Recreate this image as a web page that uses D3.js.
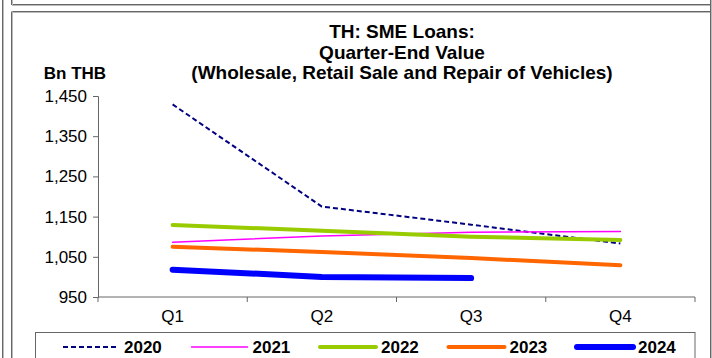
<!DOCTYPE html>
<html>
<head>
<meta charset="utf-8">
<script src="https://cdn.jsdelivr.net/npm/d3@7/dist/d3.min.js"></script>
<style>
  html, body { margin: 0; padding: 0; background: #fff; }
  svg { display: block; font-family: "Liberation Sans", Arial, sans-serif; }
</style>
</head>
<body>
<svg id="chart" width="712" height="358"></svg>
<script>
// ---- data ----
const quarters = ["Q1", "Q2", "Q3", "Q4"];
const years = ["2020", "2021", "2022", "2023", "2024"];
const v2020 = [1429, 1175, 1130, 1083];
const v2021 = [1086, 1102, 1111, 1113];
const v2022 = [1129, 1115, 1100, 1092];
const v2023 = [1075, 1062, 1047, 1029];
const v2024 = [1018, 1000, 997];
const yTicks = [950, 1050, 1150, 1250, 1350, 1450];
const titleLines = ["TH: SME Loans:", "Quarter-End Value", "(Wholesale, Retail Sale and Repair of Vehicles)"];
const yUnit = "Bn THB";

const seriesValues = [v2020, v2021, v2022, v2023, v2024];
const styles = {
  "2020": { color: "#000080", width: 2, dash: "5,3" },
  "2021": { color: "#FF00FF", width: 1.5, dash: null },
  "2022": { color: "#99CC00", width: 4, dash: null },
  "2023": { color: "#FF6600", width: 4, dash: null },
  "2024": { color: "#0000FF", width: 6, dash: null }
};

const svg = d3.select("#chart");

// frame decorations
const frame = svg.append("g");
function hline(x1, x2, y) {
  frame.append("line").attr("x1", x1).attr("x2", x2).attr("y1", y).attr("y2", y)
    .attr("stroke", "#666").attr("stroke-width", 1);
  frame.append("line").attr("x1", x1).attr("x2", x2).attr("y1", y + 1).attr("y2", y + 1)
    .attr("stroke", "#bbb").attr("stroke-width", 1);
}
function vline(x, y1, y2) {
  frame.append("line").attr("x1", x).attr("x2", x).attr("y1", y1).attr("y2", y2)
    .attr("stroke", "#666").attr("stroke-width", 1);
  frame.append("line").attr("x1", x + 1).attr("x2", x + 1).attr("y1", y1).attr("y2", y2)
    .attr("stroke", "#bbb").attr("stroke-width", 1);
}
vline(2.5, 0, 358);
hline(12, 711, 4.5);
vline(11.5, 0, 5);
hline(12, 711, 11.5);
vline(11.5, 11.5, 358);
vline(710.5, 0, 358);

// scales
const x = d3.scaleBand().domain(quarters).range([98, 695]);
const y = d3.scaleLinear().domain([950, 1450]).range([297, 96]);

// title
const title = svg.append("g").attr("font-weight", "bold").attr("font-size", 19)
  .attr("text-anchor", "middle").attr("fill", "#000");
titleLines.forEach((t, i) => {
  title.append("text").attr("x", 402).attr("y", 38 + i * 20.5).text(t);
});
svg.append("text").attr("x", 75).attr("y", 79).attr("text-anchor", "middle")
  .attr("font-weight", "bold").attr("font-size", 17).text(yUnit);

// axes
const yAxis = d3.axisLeft(y).tickValues(yTicks).tickFormat(d3.format(",")).tickSizeOuter(0).tickSize(5).tickPadding(6);
const gy = svg.append("g").attr("transform", "translate(98,0)").call(yAxis);
gy.selectAll("text").attr("font-size", 17).attr("fill", "#000").attr("font-family", "Liberation Sans, Arial, sans-serif");
gy.selectAll("line, path").attr("stroke", "#666");

const gx = svg.append("g").attr("transform", "translate(0,297)");
gx.append("line").attr("x1", 98).attr("x2", 695).attr("stroke", "#666");
const bounds = quarters.map(q => x(q)).concat([x(quarters[quarters.length - 1]) + x.bandwidth()]);
gx.selectAll("line.tk").data(bounds).enter().append("line").attr("class", "tk")
  .attr("x1", d => d).attr("x2", d => d).attr("y1", 0).attr("y2", 5).attr("stroke", "#666");
gx.selectAll("text").data(quarters).enter().append("text")
  .attr("x", d => x(d) + x.bandwidth() / 2).attr("y", 25)
  .attr("text-anchor", "middle").attr("font-size", 17).attr("fill", "#000").text(d => d);

// lines
const line = d3.line()
  .x((d, i) => x(quarters[i]) + x.bandwidth() / 2)
  .y(d => y(d));
years.forEach((yr, k) => {
  const s = styles[yr];
  svg.append("path").datum(seriesValues[k])
    .attr("d", line)
    .attr("fill", "none")
    .attr("stroke", s.color)
    .attr("stroke-width", s.width)
    .attr("stroke-linecap", s.dash ? "butt" : "round")
    .attr("stroke-linejoin", "round")
    .attr("stroke-dasharray", s.dash);
});

// legend
const lg = svg.append("g");
lg.append("rect").attr("x", 35.5).attr("y", 332.5).attr("width", 659.5).attr("height", 60)
  .attr("fill", "#fff").attr("stroke", "#666");
years.forEach((yr, k) => {
  const s = styles[yr];
  const x0 = 63 + k * 128.5;
  lg.append("line").attr("x1", x0).attr("x2", x0 + 56).attr("y1", 347).attr("y2", 347)
    .attr("stroke", s.color).attr("stroke-width", s.width)
    .attr("stroke-linecap", s.dash ? "butt" : "round")
    .attr("stroke-dasharray", s.dash);
  lg.append("text").attr("x", x0 + 61).attr("y", 353).attr("font-weight", "bold")
    .attr("font-size", 17).text(yr);
});
</script>
</body>
</html>
